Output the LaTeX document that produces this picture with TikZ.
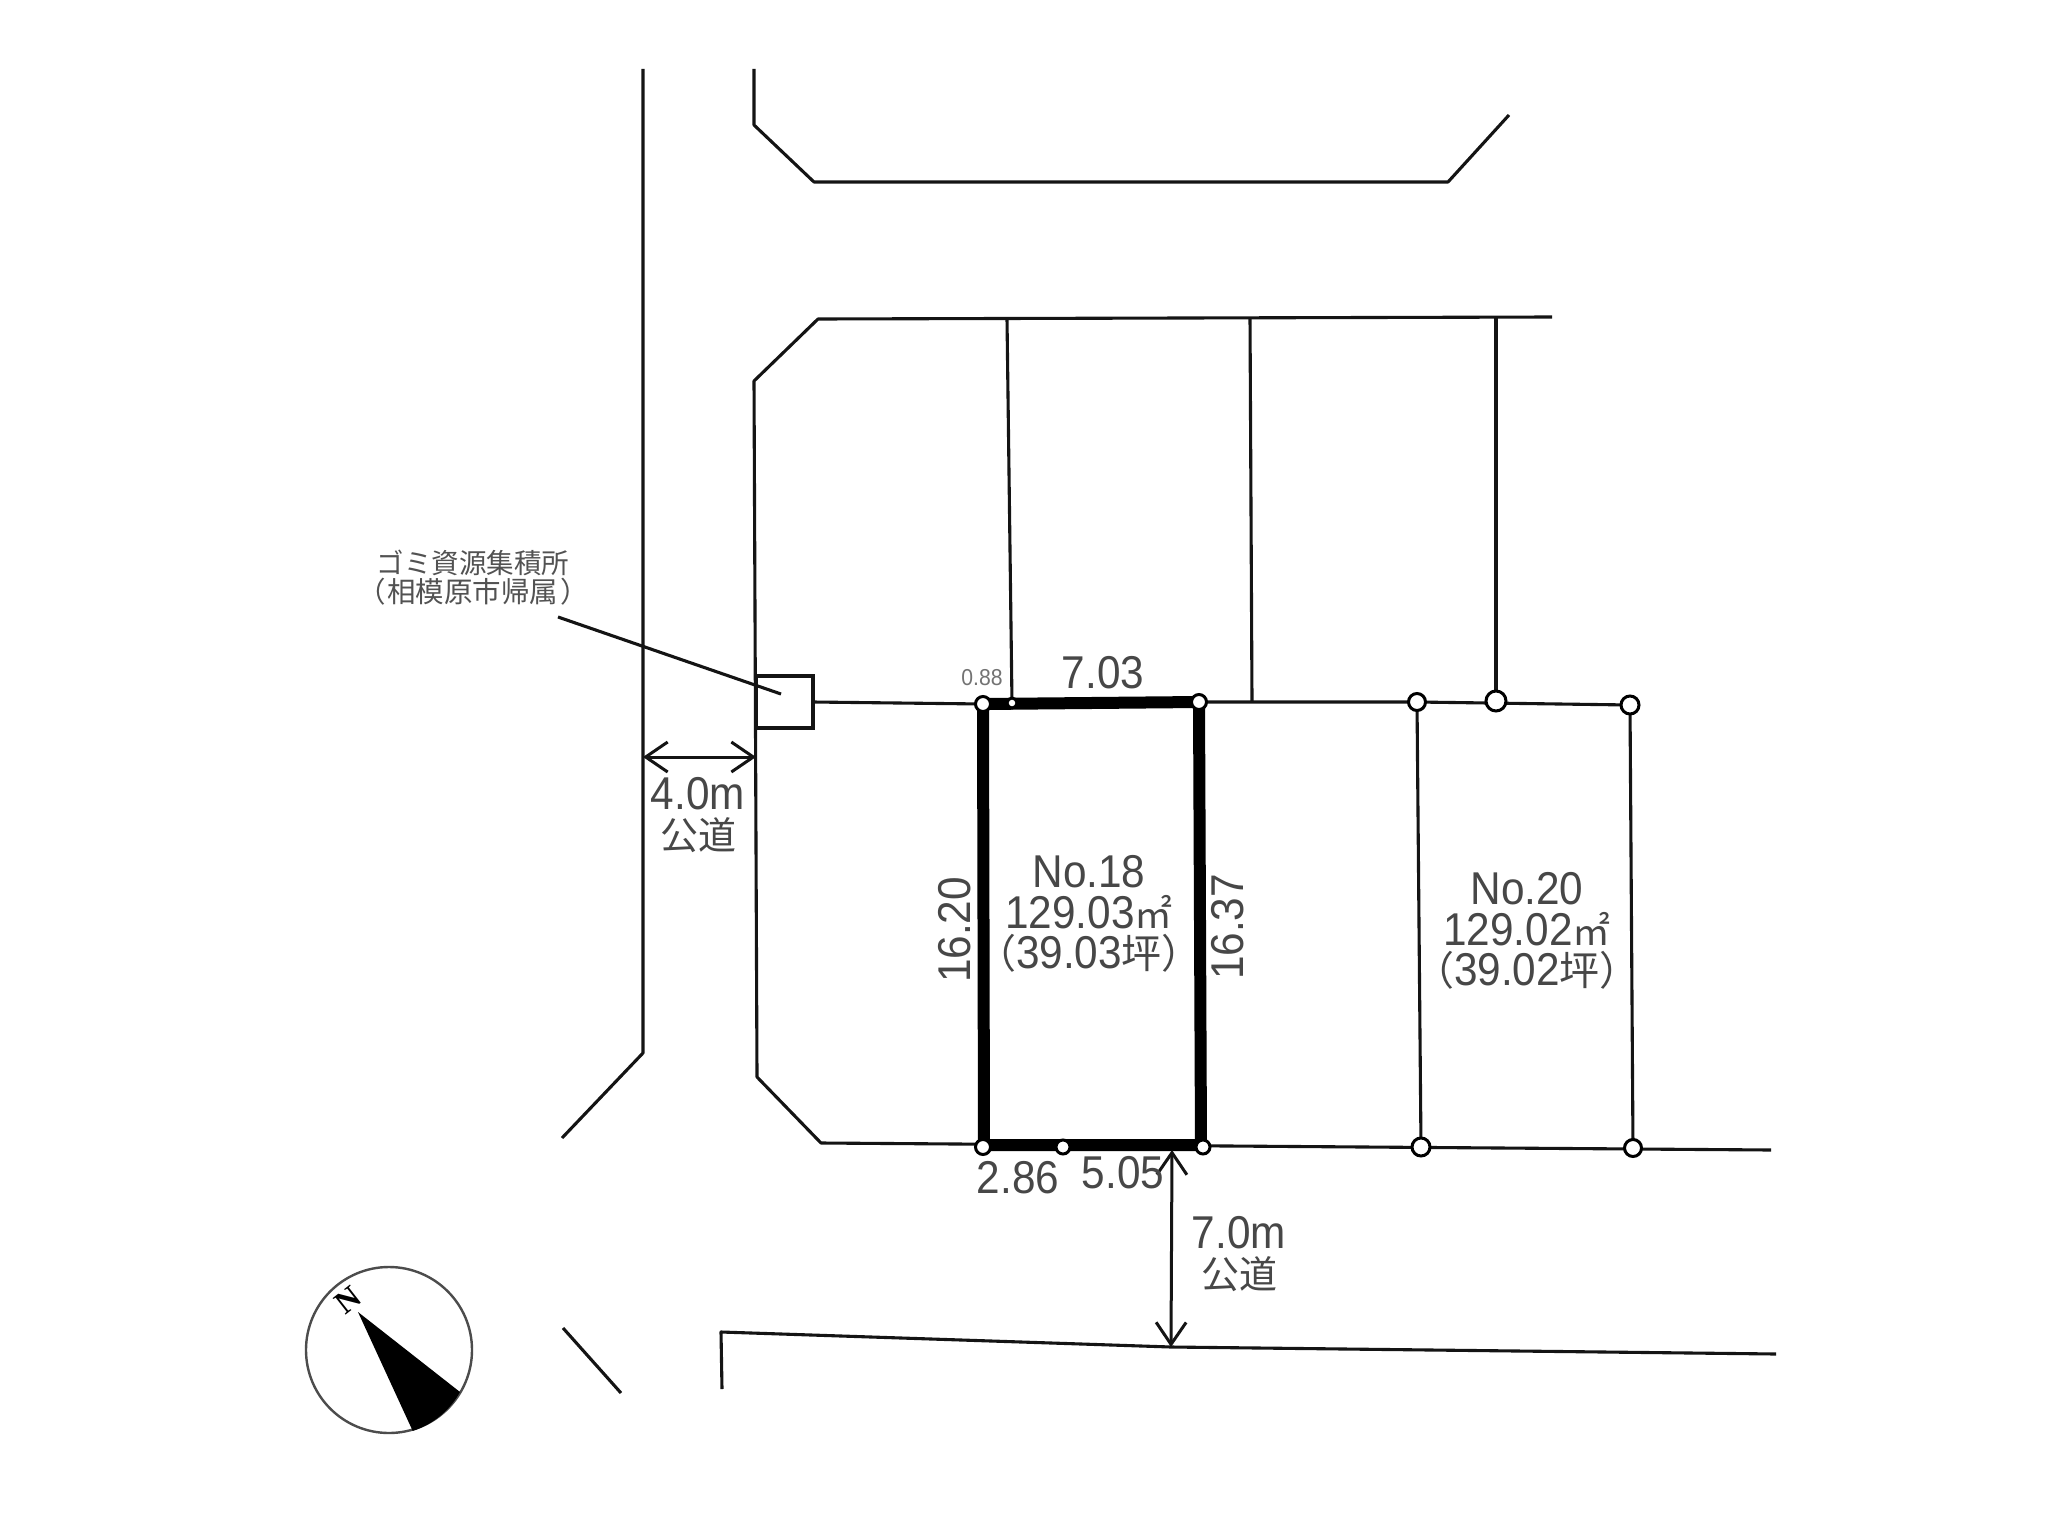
\documentclass[tikz,border=0pt]{standalone}
\usepackage{fontspec}
\setmainfont{Liberation Sans}
\newfontfamily\labfont[FakeStretch=0.92]{Liberation Sans}
\newfontfamily\cjk{Noto Sans CJK JP}
\newfontfamily\serifN{Liberation Serif}
\usetikzlibrary{arrows.meta}
\newcommand{\capcjk}{\cjk\fontsize{40}{40}\selectfont}
\newcommand{\sqm}{{\cjk\fontsize{38}{38}\selectfont ㎡}}
\newcommand{\roadword}{{\cjk\fontsize{38}{38}\selectfont 公道}}
\tikzset{
  plan/.style={draw=black!92,line width=3.1pt,line join=round},
  heavy/.style={draw=black,line width=12pt,line join=miter},
  pin/.style={circle,draw=black,fill=white,line width=3pt,inner sep=0pt,minimum size=#1},
  pin/.default=14pt,
  dim/.style={draw=black!92,line width=3pt,{Straight Barb[length=22pt,width=30pt,line width=3pt]}-{Straight Barb[length=22pt,width=30pt,line width=3pt]}},
  lab/.style={inner sep=0pt,text=black!72,font=\labfont\fontsize{46}{40.5}\selectfont,align=center,execute at begin node={\lineskiplimit=-100pt\relax}},
  note/.style={inner sep=0pt,text=black!68,align=center,font=\cjk\fontsize{27.5}{29}\selectfont,execute at begin node={\lineskiplimit=-100pt\relax}},
  tiny/.style={inner sep=0pt,text=black!55,font=\labfont\fontsize{23}{23}\selectfont},
}
\begin{document}
\begin{tikzpicture}[x=1pt,y=-1pt]
\useasboundingbox[fill=white] (0,0) rectangle (2048,1536);

% roads and block
\draw[plan] (643,69) -- (643,1053) -- (562,1138);
\draw[plan] (754,69) -- (754,125) -- (814,182) -- (1448,182) -- (1509,115);
\draw[plan] (1552,317) -- (818,319) -- (754,381) -- (757,1077) -- (821,1143) -- (1771,1150);
\draw[plan] (722,1389) -- (721,1332) -- (1171,1347) -- (1776,1354);
\draw[plan] (563,1328) -- (621,1393);

% named survey points
\coordinate (tl) at (983,704);
\coordinate (tr) at (1199,702);
\coordinate (br) at (1203,1147);
\coordinate (bl) at (983,1147);
\coordinate (bm) at (1063,1147);
\coordinate (tm) at (1012,703);
\coordinate (a) at (1417,702);
\coordinate (b) at (1496,701);
\coordinate (c) at (1630,705);
\coordinate (d) at (1421,1147);
\coordinate (e) at (1633,1148);

% lot lines
\draw[plan] (1007,319) -- (tm);
\draw[plan] (1250,318) -- (1252,701);
\draw[plan] (b) -- (1496,318);
\draw[plan] (813,702) -- (tl);
\draw[plan] (tr) -- (a) -- (c) -- (e);
\draw[plan] (a) -- (d);

% subject lot
\draw[heavy] (tl) -- (tr) -- (1201,1145) -- (984,1145) -- cycle;

\foreach \p/\s in {tl/15pt,tr/15pt,br/14pt,bl/15pt,bm/14pt,a/17pt,c/18pt,d/18pt,e/17pt}{
  \node[pin=\s] at (\p) {};
}
\node[pin=10pt] at (tm) {};
\node[pin=20pt] at (b) {};

% refuse station
\node[draw=black!92,line width=3.1pt,fill=white,minimum width=57pt,minimum height=52pt,inner sep=0pt] (box) at (784.5,702) {};
\coordinate (leadend) at (781,694);
\node[note] (n1) at (473,578) {ゴミ資源集積所\\{\fontsize{28.5}{29}\selectfont （\kern2pt相模原市帰属\kern2pt）}};
\coordinate (leadstart) at (558,617);
\draw[plan] (leadstart) -- (leadend);

% road widths
\coordinate (wa) at (643,757);
\coordinate (wb) at (756,757);
\draw[dim] (wa) -- (wb);
\node[lab] (l4) at (698,815) {4.0m\\\roadword};
\coordinate (va) at (1172,1150);
\coordinate (vb) at (1171,1347);
\draw[dim] (va) -- (vb);
\node[lab] (l7) at (1239,1254) {7.0m\\\roadword};

% dimensions
\node[lab] (d703) at (1103,673) {7.03};
\node[tiny] (d088) at (982,678) {0.88};
\node[lab,rotate=90] (d1620) at (955,930) {16.20};
\node[lab,rotate=90] (d1637) at (1228,927) {16.37};
\node[lab] (d286) at (1018,1178) {2.86};
\node[lab] (d505) at (1123,1173) {5.05};

% lot captions
\node[lab] (cap18) at (1089,914) {No.18\\129.03\sqm\\{\capcjk （}39.03{\capcjk 坪）}};
\node[lab] (cap20) at (1527,931) {No.20\\129.02\sqm\\{\capcjk （}39.02{\capcjk 坪）}};

% compass
\node[circle,draw=black!70,line width=2.4pt,minimum size=166pt,inner sep=0pt] (comp) at (389,1350) {};
\fill[black] (358,1312) -- (460,1392) arc[start angle=28.9,end angle=72.2,radius=83] -- cycle;
\node[inner sep=0pt,rotate=38,font=\serifN\bfseries\fontsize{32}{32}\selectfont] (north) at (348,1300) {N};
\end{tikzpicture}
\end{document}
